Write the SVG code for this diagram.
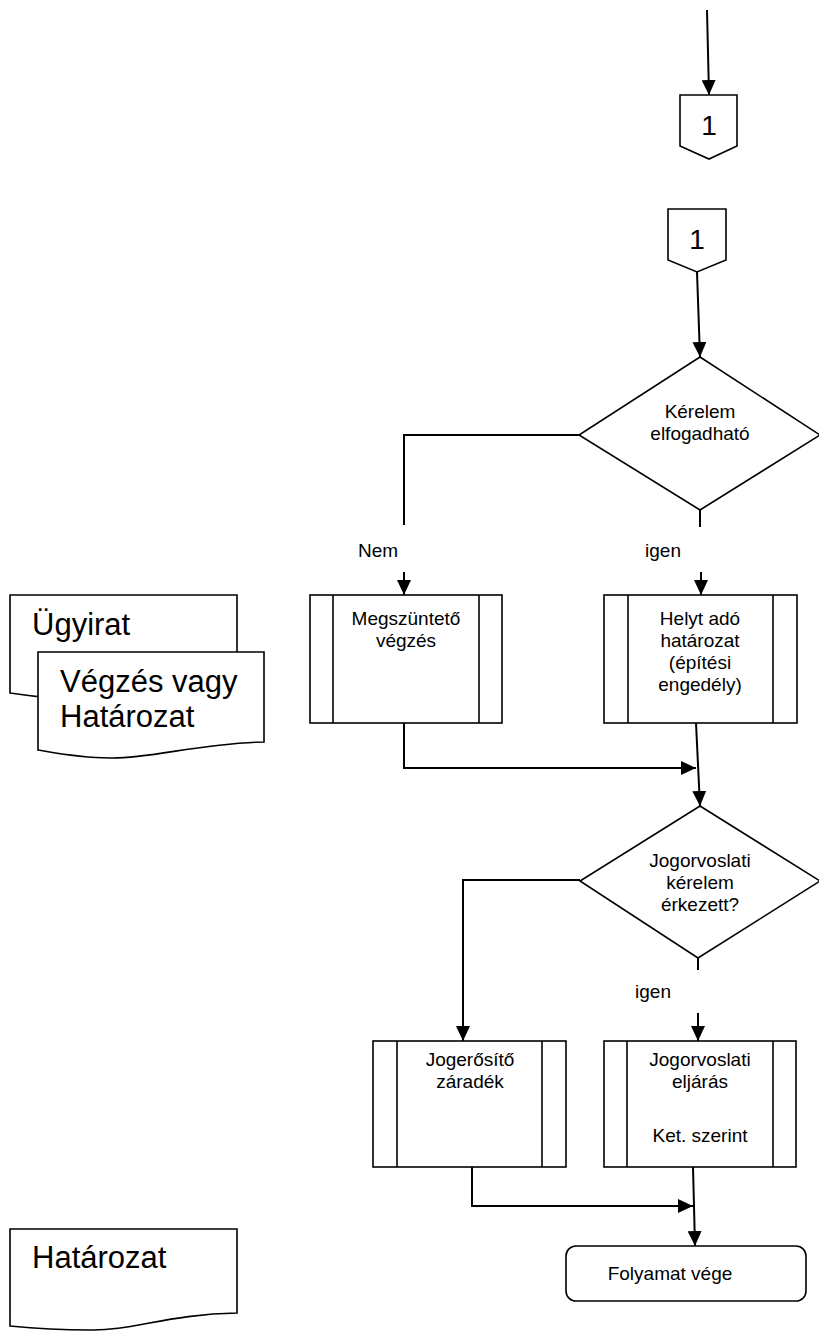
<svg xmlns="http://www.w3.org/2000/svg" width="819" height="1331" viewBox="0 0 819 1331">
<style>
.shape{fill:#fff;stroke:#000;stroke-width:1.6}
.conn{fill:none;stroke:#000;stroke-width:2}
.t{font-family:"Liberation Sans",Arial,sans-serif;font-size:19px;fill:#000;text-anchor:middle}
.big{font-family:"Liberation Sans",Arial,sans-serif;font-size:31px;fill:#000}
.num{font-family:"Liberation Sans",Arial,sans-serif;font-size:28px;fill:#000;text-anchor:middle}
</style>
<defs>
<marker id="arr" markerUnits="userSpaceOnUse" markerWidth="15" markerHeight="14" refX="15" refY="7" orient="auto">
<path d="M0,0 L15,7 L0,14 z" fill="#000"/>
</marker>
</defs>
<rect width="819" height="1331" fill="#fff"/>

<g id="connectors">
<path class="conn" d="M707,10 L709,95" marker-end="url(#arr)"/>
<path class="conn" d="M697,272 L700,357" marker-end="url(#arr)"/>
<path class="conn" d="M579,435 H404 V525"/>
<path class="conn" d="M700,510 V527"/>
<path class="conn" d="M404,572 V595" marker-end="url(#arr)"/>
<path class="conn" d="M701,572 V595" marker-end="url(#arr)"/>
<path class="conn" d="M404,723 V768 H696" marker-end="url(#arr)"/>
<path class="conn" d="M696,723 L700,806" marker-end="url(#arr)"/>
<path class="conn" d="M580,880 H463 V1041" marker-end="url(#arr)"/>
<path class="conn" d="M698,958 V970"/>
<path class="conn" d="M698,1013 V1041" marker-end="url(#arr)"/>
<path class="conn" d="M472,1167 V1206 H693" marker-end="url(#arr)"/>
<path class="conn" d="M693,1167 L695,1246" marker-end="url(#arr)"/>
</g>

<g id="offpage1">
<polygon class="shape" points="680,95 737,95 737,146 709,159 680,146"/>
<text class="num" x="709" y="135">1</text>
</g>

<g id="offpage2">
<polygon class="shape" points="668,209 726,209 726,260 697,272 668,260"/>
<text class="num" x="697" y="249">1</text>
</g>

<g id="decision1">
<polygon class="shape" points="700,357 820,435 700,510 579,435"/>
<text class="t" x="700" y="418">Kérelem</text>
<text class="t" x="700" y="440">elfogadható</text>
</g>

<g id="label-nem"><text class="t" x="378" y="557">Nem</text></g>
<g id="label-igen1"><text class="t" x="663" y="557">igen</text></g>

<g id="proc-megszunteto">
<rect class="shape" x="310" y="595" width="192" height="128"/>
<line class="shape" x1="333" y1="595" x2="333" y2="723"/>
<line class="shape" x1="479" y1="595" x2="479" y2="723"/>
<text class="t" x="406" y="625">Megszüntető</text>
<text class="t" x="406" y="647">végzés</text>
</g>

<g id="proc-helyt">
<rect class="shape" x="604" y="595" width="193" height="128"/>
<line class="shape" x1="628" y1="595" x2="628" y2="723"/>
<line class="shape" x1="773" y1="595" x2="773" y2="723"/>
<text class="t" x="700" y="625">Helyt adó</text>
<text class="t" x="700" y="647">határozat</text>
<text class="t" x="700" y="669">(építési</text>
<text class="t" x="700" y="691">engedély)</text>
</g>

<g id="decision2">
<polygon class="shape" points="700,806 820,881 698,958 580,881"/>
<text class="t" x="700" y="867">Jogorvoslati</text>
<text class="t" x="700" y="889">kérelem</text>
<text class="t" x="700" y="911">érkezett?</text>
</g>

<g id="label-igen2"><text class="t" x="653" y="998">igen</text></g>

<g id="proc-jogerosito">
<rect class="shape" x="373" y="1041" width="193" height="126"/>
<line class="shape" x1="397" y1="1041" x2="397" y2="1167"/>
<line class="shape" x1="542" y1="1041" x2="542" y2="1167"/>
<text class="t" x="470" y="1066">Jogerősítő</text>
<text class="t" x="470" y="1088">záradék</text>
</g>

<g id="proc-jogorvoslati">
<rect class="shape" x="604" y="1041" width="192" height="126"/>
<line class="shape" x1="627" y1="1041" x2="627" y2="1167"/>
<line class="shape" x1="773" y1="1041" x2="773" y2="1167"/>
<text class="t" x="700" y="1066">Jogorvoslati</text>
<text class="t" x="700" y="1088">eljárás</text>
<text class="t" x="700" y="1142">Ket. szerint</text>
</g>

<g id="end">
<rect class="shape" x="566" y="1246" width="240" height="55" rx="10" ry="10"/>
<text class="t" x="670" y="1280">Folyamat vége</text>
</g>

<g id="doc-ugyirat">
<path class="shape" d="M10,595 H237 V685 C175,686 130,700 95,700 C60,700 30,696 10,693 Z"/>
<text class="big" x="32" y="635">Ügyirat</text>
</g>

<g id="doc-vegzes">
<path class="shape" d="M38,652 H264 V742 C200,743 150,759 110,758 C80,758 55,753 38,750 Z"/>
<text class="big" x="60" y="692">Végzés vagy</text>
<text class="big" x="60" y="727">Határozat</text>
</g>

<g id="doc-hatarozat">
<path class="shape" d="M10,1229 H237 V1313 C170,1314 130,1331 90,1330 C60,1330 30,1328 10,1326 Z"/>
<text class="big" x="32" y="1268">Határozat</text>
</g>
</svg>
